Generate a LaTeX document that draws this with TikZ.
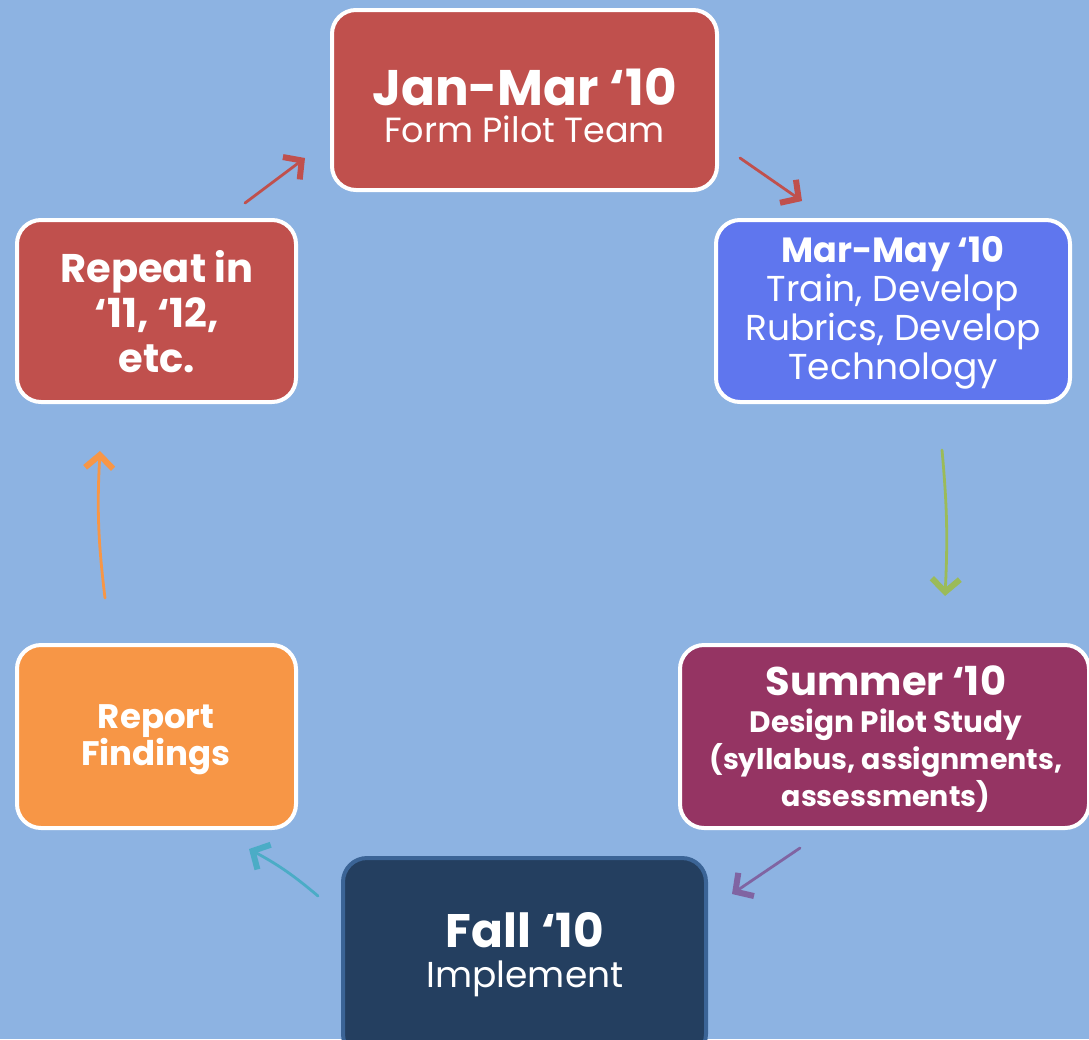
\documentclass[tikz,border=0pt]{standalone}
\usepackage{fontspec}
\setmainfont{Poppins}
\usepackage{xcolor}
\usetikzlibrary{arrows.meta}

\definecolor{skyback}{HTML}{8DB3E2}
\definecolor{brick}{HTML}{C0504D}
\definecolor{cornflower}{HTML}{5F76EE}
\definecolor{plum}{HTML}{953463}
\definecolor{navy}{HTML}{243F60}
\definecolor{navyedge}{HTML}{3B6496}
\definecolor{tangerine}{HTML}{F79646}
\definecolor{olive}{HTML}{9BBB59}
\definecolor{lilac}{HTML}{8064A2}
\definecolor{aqua}{HTML}{4BACC6}

% size and fixed line pitch
\newcommand{\fsz}[2]{\fontsize{#1}{#2}\selectfont\lineskiplimit=-100pt\relax}

\tikzset{
	phase/.style={draw=white, line width=4pt, rounded corners=24pt},
	phasetext/.style={text=white, align=center, inner sep=0pt, anchor=base},
	flow/.style={line width=2.8pt, line cap=round,
		-{Straight Barb[length=13pt,width=28pt,line width=6pt]}},
}

\begin{document}
\begin{tikzpicture}[x=1pt,y=-1pt]
	\fill [skyback] (0,0) rectangle (1089,1039);
	\useasboundingbox (0,0) rectangle (1089,1039);

	% the six phases
	\node [phase, fill=brick, minimum width=385pt, minimum height=180pt] (team) at (524.5,100) {};
	\node [phase, fill=cornflower, minimum width=354pt, minimum height=182pt] (train) at (893,311) {};
	\node [phase, fill=plum, minimum width=409pt, minimum height=183pt] (design) at (884.5,736.5) {};
	\node [phase, draw=navyedge, fill=navy, minimum width=363pt, minimum height=200pt] (fall) at (524.5,958) {};
	\node [phase, fill=tangerine, minimum width=279pt, minimum height=183pt] (report) at (156.5,736.5) {};
	\node [phase, fill=brick, minimum width=279pt, minimum height=182pt] (repeat) at (156.5,311) {};

	% their texts, placed by the baseline of the last line
	\node [phasetext, font=\fsz{35}{37}] (teamtxt) at (524.5,142)
		{\fsz{50}{37}\bfseries Jan-Mar ‘10\\ Form Pilot Team};
	\node [phasetext, font=\fsz{36}{39}] (traintxt) at (893,379)
		{\fsz{35}{39}\bfseries Mar-May ‘10\\ Train, Develop\\ Rubrics, Develop\\ Technology};
	\node [phasetext, font=\fsz{28.5}{37}\bfseries] (designtxt) at (886,806)
		{\fsz{40}{38}Summer ‘10\\ \fsz{29.5}{37}Design Pilot Study\\
		 (syllabus, assignments,\\ \fsz{28.5}{33}assessments)};
	\node [phasetext, font=\fsz{36}{40}] (falltxt) at (525,987)
		{\fsz{47}{40}\bfseries Fall ‘10\\ Implement};
	\node [phasetext, font=\fsz{34}{37}\bfseries] (reporttxt) at (156,765)
		{Report\\ Findings};
	\node [phasetext, font=\fsz{40}{45}\bfseries] (repeattxt) at (157,372)
		{Repeat in\\ ‘11, ‘12,\\ etc.};

	% arrow ends
	\coordinate (a1) at (245,203); \coordinate (b1) at (305,158);
	\coordinate (a2) at (740,158); \coordinate (b2) at (802,201);
	\coordinate (a3) at (942,450); \coordinate (b3) at (945,596);
	\coordinate (a4) at (800,848); \coordinate (b4) at (732,894);
	\coordinate (a5) at (318,896); \coordinate (b5) at (249,849);
	\coordinate (a6) at (105,598); \coordinate (b6) at (100,451);

	\draw [flow, brick] (a1) -- (b1);
	\draw [flow, brick] (a2) -- (b2);
	\draw [flow, olive] (a3) to [bend left=4] (b3);
	\draw [flow, lilac] (a4) -- (b4);
	\draw [flow, aqua] (a5) to [bend right=6] (b5);
	\draw [flow, tangerine] (a6) to [bend left=5] (b6);
\end{tikzpicture}
\end{document}
